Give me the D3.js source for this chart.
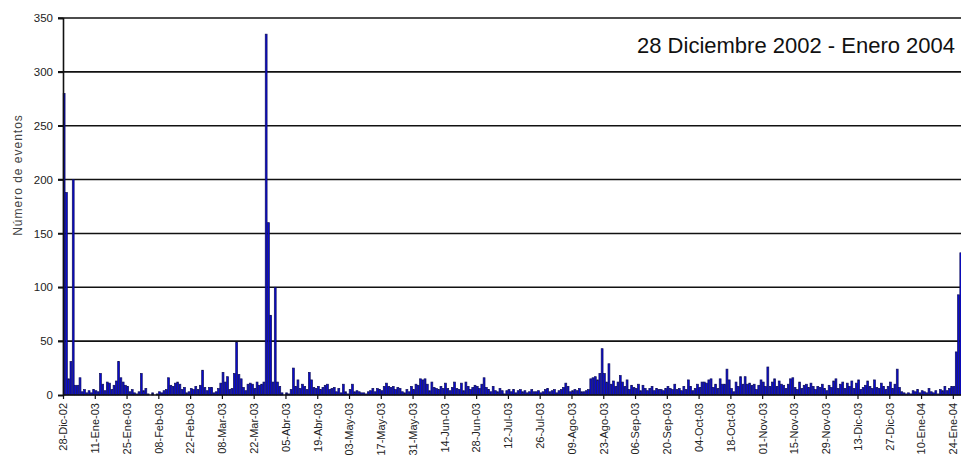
<!DOCTYPE html>
<html>
<head>
<meta charset="utf-8">
<script src="https://cdn.jsdelivr.net/npm/d3@7"></script>
<style>
  html, body { margin: 0; padding: 0; background: #fff; overflow: hidden; }
  svg { display: block; }
  text { font-family: Arial, "Liberation Sans", sans-serif; }
</style>
</head>
<body>
<div id="chart"></div>
<script>
// Daily number of events, one value per day starting 28 Dec 2002
const counts = [
  280, 188, 15, 31, 200, 9, 9, 16, 3, 5,
  2, 4, 2, 5, 4, 3, 20, 10, 4, 12,
  11, 5, 9, 13, 31, 16, 12, 9, 8, 3,
  5, 2, 1, 3, 20, 4, 6, 1, 0, 2,
  0, 1, 3, 2, 4, 5, 16, 9, 8, 11,
  12, 10, 5, 7, 2, 3, 6, 5, 8, 5,
  9, 23, 7, 4, 7, 7, 2, 3, 6, 11,
  21, 12, 17, 5, 6, 20, 49, 19, 15, 7,
  4, 10, 11, 10, 6, 12, 9, 10, 12, 335,
  160, 74, 12, 100, 12, 8, 2, 0, 2, 1,
  5, 25, 8, 14, 6, 10, 8, 5, 21, 14,
  7, 6, 8, 5, 7, 9, 10, 5, 6, 7,
  3, 6, 2, 10, 3, 1, 5, 10, 3, 4,
  3, 2, 2, 1, 3, 4, 6, 3, 6, 5,
  4, 8, 11, 8, 7, 8, 5, 7, 6, 3,
  2, 5, 3, 8, 5, 10, 9, 15, 14, 15,
  10, 4, 12, 7, 6, 5, 8, 6, 11, 6,
  4, 7, 12, 6, 5, 11, 4, 12, 8, 5,
  7, 9, 8, 6, 10, 16, 7, 5, 3, 8,
  4, 3, 6, 4, 1, 4, 5, 3, 5, 2,
  4, 5, 3, 4, 2, 3, 5, 3, 3, 4,
  2, 3, 5, 6, 3, 4, 5, 2, 4, 5,
  7, 11, 8, 3, 4, 5, 4, 6, 3, 3,
  4, 5, 15, 16, 17, 14, 20, 43, 20, 12,
  29, 10, 13, 8, 12, 18, 12, 8, 14, 5,
  9, 7, 6, 10, 4, 9, 6, 4, 6, 8,
  4, 6, 5, 5, 4, 6, 8, 6, 5, 10,
  5, 6, 4, 8, 5, 14, 8, 4, 6, 10,
  7, 12, 12, 11, 14, 15, 7, 10, 6, 15,
  10, 10, 24, 14, 6, 3, 12, 8, 17, 10,
  17, 10, 11, 9, 10, 5, 9, 14, 12, 8,
  26, 8, 12, 15, 8, 13, 10, 9, 6, 10,
  15, 16, 7, 5, 12, 6, 9, 10, 7, 11,
  8, 5, 8, 7, 10, 6, 4, 9, 7, 13,
  15, 6, 10, 12, 6, 11, 8, 13, 6, 11,
  14, 5, 7, 9, 13, 8, 6, 14, 7, 6,
  11, 8, 5, 8, 12, 6, 10, 24, 7, 3,
  2, 1, 2, 1, 4, 3, 5, 2, 4, 3,
  2, 6, 3, 2, 4, 1, 5, 4, 8, 4,
  6, 8, 8, 40, 93, 132
];

// Date labels every 14 days
const tickLabels = [
  "28-Dic-02", "11-Ene-03", "25-Ene-03", "08-Feb-03", "22-Feb-03", "08-Mar-03",
  "22-Mar-03", "05-Abr-03", "19-Abr-03", "03-May-03", "17-May-03", "31-May-03",
  "14-Jun-03", "28-Jun-03", "12-Jul-03", "26-Jul-03", "09-Ago-03", "23-Ago-03",
  "06-Sep-03", "20-Sep-03", "04-Oct-03", "18-Oct-03", "01-Nov-03", "15-Nov-03",
  "29-Nov-03", "13-Dic-03", "27-Dic-03", "10-Ene-04", "24-Ene-04"
];
const tickStep = 14;
const yTicks = [0, 50, 100, 150, 200, 250, 300, 350];

const titleText = "28 Diciembre 2002 - Enero 2004";
const yTitle = "Número de eventos";

const W = 961, H = 463;
const plotLeft = 63, plotTop = 18, plotBottom = 395;
const dayW = 2.27;

const svg = d3.select("#chart").append("svg")
  .attr("width", W).attr("height", H);

const x = d3.scaleLinear().domain([0, 1]).range([plotLeft, plotLeft + dayW]);
const y = d3.scaleLinear().domain([0, 350]).range([plotBottom, plotTop]);

// horizontal gridlines
svg.append("g").selectAll("line")
  .data(yTicks.filter(v => v > 0))
  .join("line")
  .attr("x1", plotLeft - 5).attr("x2", W)
  .attr("y1", d => y(d)).attr("y2", d => y(d))
  .attr("stroke", "#111").attr("stroke-width", 1.6);

// bars: blue fill with a dark navy outline
svg.append("g").selectAll("rect")
  .data(counts.map((v, i) => ({ i, v })).filter(d => d.v > 0))
  .join("rect")
  .attr("x", d => x(d.i) + 0.2)
  .attr("width", d => (x(d.i + 1) - x(d.i)) * 0.82)
  .attr("y", d => y(d.v))
  .attr("height", d => y(0) - y(d.v))
  .attr("fill", "#0a0ad0")
  .attr("stroke", "#10105a")
  .attr("stroke-width", 0.7);

// y axis
const yAxis = svg.append("g")
  .attr("transform", `translate(${plotLeft},0)`)
  .call(d3.axisLeft(y).tickValues(yTicks).tickSize(5).tickPadding(5));
yAxis.select(".domain").attr("stroke", "#111").attr("stroke-width", 1.6);
yAxis.selectAll(".tick line").attr("stroke", "#111").attr("stroke-width", 1.6);
yAxis.selectAll(".tick text")
  .attr("font-size", 11.5).attr("fill", "#222")
  .attr("font-family", "Arial, 'Liberation Sans', sans-serif");

// x axis with date labels
const tickDays = tickLabels.map((_, k) => k * tickStep);
const xAxis = svg.append("g")
  .attr("transform", `translate(0,${plotBottom})`)
  .call(d3.axisBottom(x)
    .tickValues(tickDays)
    .tickFormat((d, k) => tickLabels[k])
    .tickSize(4));
xAxis.select(".domain")
  .attr("d", `M${plotLeft},0H${W}`)
  .attr("stroke", "#111").attr("stroke-width", 1.6);
xAxis.selectAll(".tick line").attr("stroke", "#111").attr("stroke-width", 1.2);
xAxis.selectAll(".tick text")
  .attr("font-size", 11).attr("fill", "#222")
  .attr("font-family", "Arial, 'Liberation Sans', sans-serif")
  .attr("transform", "rotate(-90)")
  .attr("text-anchor", "end")
  .attr("x", -8).attr("y", 0).attr("dy", "0.35em");

// y axis title
svg.append("text")
  .attr("transform", "translate(18,175) rotate(-90)")
  .attr("text-anchor", "middle")
  .attr("dy", "0.35em")
  .attr("font-size", 12)
  .attr("letter-spacing", 1)
  .attr("fill", "#444")
  .text(yTitle);

// chart title
svg.append("text")
  .attr("x", 955).attr("y", 52.5)
  .attr("text-anchor", "end")
  .attr("font-size", 22)
  .attr("fill", "#111")
  .text(titleText);
</script>
</body>
</html>
